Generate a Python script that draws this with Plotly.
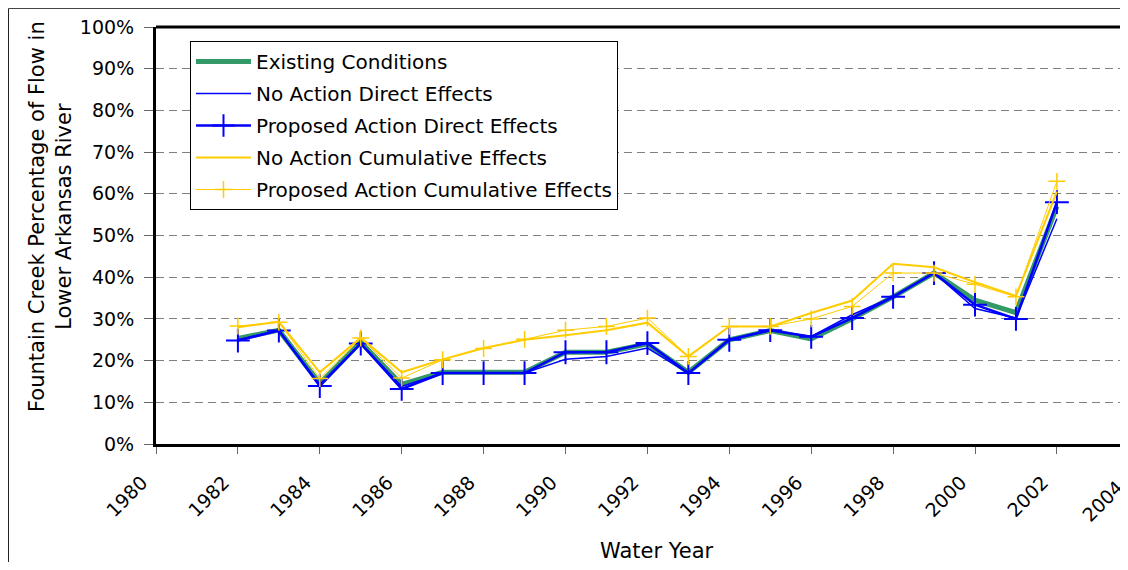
import plotly.graph_objects as go

years = list(range(1982, 2003))

existing = [25.3, 27.3, 14.5, 24.4, 14.3, 17.2, 17.2, 17.2, 22.0, 22.0, 24.0,
            17.2, 25.0, 27.2, 25.2, 30.0, 35.3, 41.0, 34.5, 31.5, 57.0]
no_action_direct = [25.0, 27.3, 14.3, 24.2, 13.8, 17.0, 17.0, 17.0, 20.3, 21.0, 23.0,
                    17.0, 25.0, 27.2, 25.8, 31.0, 35.3, 41.0, 32.5, 30.2, 54.0]
proposed_direct = [24.8, 27.2, 13.9, 24.1, 13.2, 17.0, 17.0, 17.0, 22.0, 22.0, 24.2,
                   17.0, 25.0, 27.3, 25.7, 30.2, 35.3, 41.0, 33.4, 30.0, 58.0]
no_action_cumulative = [28.0, 29.3, 17.2, 25.5, 17.2, 20.3, 23.0, 25.0, 26.1, 27.3, 29.1,
                        21.0, 28.2, 28.2, 31.4, 34.4, 43.2, 42.4, 38.8, 35.5, 60.5]
proposed_cumulative = [28.3, 29.2, 15.7, 25.4, 15.8, 20.2, 22.9, 25.1, 27.3, 28.2, 30.2,
                       21.0, 28.2, 28.2, 30.0, 33.0, 41.0, 41.0, 38.3, 35.3, 63.0]

x_ticks = list(range(1980, 2003, 2))
y_ticks = list(range(0, 101, 10))

GREEN = "#339966"
BLUE = "#0000FF"
YELLOW = "#FFCC00"
FONT = "DejaVu Sans"

# page has an 8px body margin, so the figure is sized to fit inside it
W, H = 1112, 554
L, T, B = 148, 19, 118
PX_PER_YEAR = 40.95

fig = go.Figure()

fig.add_trace(go.Scatter(
    x=years, y=existing, name="Existing Conditions", mode="lines",
    line={"color": GREEN, "width": 5}, legendgroup="a",
))
fig.add_trace(go.Scatter(
    x=years, y=no_action_direct, name="No Action Direct Effects", mode="lines",
    line={"color": BLUE, "width": 1.5}, legendgroup="b",
))
fig.add_trace(go.Scatter(
    x=years, y=proposed_direct, name="Proposed Action Direct Effects",
    mode="lines+markers", line={"color": BLUE, "width": 2.5},
    marker={"symbol": "cross-thin", "size": 17, "line": {"color": BLUE, "width": 2}},
    legendgroup="c",
))
fig.add_trace(go.Scatter(
    x=years, y=no_action_cumulative, name="No Action Cumulative Effects", mode="lines",
    line={"color": YELLOW, "width": 2}, legendgroup="d",
))
fig.add_trace(go.Scatter(
    x=years, y=proposed_cumulative, name="Proposed Action Cumulative Effects",
    mode="lines+markers", line={"color": YELLOW, "width": 1},
    marker={"symbol": "cross-thin", "size": 12, "line": {"color": YELLOW, "width": 1.5}},
    legendgroup="e",
))

plot_w = W - L
plot_h = H - T - B


def px(xp):
    return (xp - L) / plot_w


def py(yp):
    return (T + plot_h - yp) / plot_h


fig.update_layout(
    width=W,
    height=H,
    margin={"l": L, "r": 0, "t": T, "b": B},
    paper_bgcolor="white",
    plot_bgcolor="white",
    font={"family": FONT, "size": 19, "color": "black"},
    showlegend=True,
    legend={
        "x": px(182), "y": py(33), "xanchor": "left", "yanchor": "top",
        "bgcolor": "white", "bordercolor": "black", "borderwidth": 1,
        "font": {"family": FONT, "size": 20, "color": "black"},
        "traceorder": "grouped", "tracegroupgap": 3, "itemwidth": 55,
    },
    xaxis={
        "range": [1980, 1980 + plot_w / PX_PER_YEAR],
        "tickvals": x_ticks,
        "ticktext": [str(v) for v in x_ticks],
        "tickangle": -45,
        "ticks": "outside", "ticklen": 7, "tickcolor": "#666",
        "ticklabelshift": -14, "ticklabelstandoff": 10,
        "showline": True, "linecolor": "black", "linewidth": 3,
        "showgrid": False, "zeroline": False,
    },
    yaxis={
        "range": [0, 100],
        "tickvals": y_ticks,
        "ticktext": [f"{v}%" for v in y_ticks],
        "ticks": "outside", "ticklen": 9, "tickcolor": "#666",
        "ticklabelstandoff": 6,
        "showline": True, "linecolor": "black", "linewidth": 3,
        "showgrid": True, "gridcolor": "#808080", "gridwidth": 1,
        "griddash": "8px,5px", "zeroline": False,
    },
    shapes=[
        # top border of the plot area
        {"type": "line", "xref": "paper", "yref": "paper",
         "x0": 0, "x1": 1.05, "y0": 1, "y1": 1,
         "line": {"color": "black", "width": 3}},
        # chart area border (left and top visible)
        {"type": "line", "xref": "paper", "yref": "paper",
         "x0": px(0.5), "x1": px(0.5), "y0": py(0.5), "y1": py(H + 20),
         "line": {"color": "#222", "width": 1}},
        {"type": "line", "xref": "paper", "yref": "paper",
         "x0": px(0.5), "x1": 1.05, "y0": py(0.5), "y1": py(0.5),
         "line": {"color": "#444", "width": 1}},
    ],
    annotations=[
        {"text": "Fountain Creek Percentage of Flow in<br>Lower Arkansas River",
         "xref": "paper", "yref": "paper", "x": px(42), "y": py(209),
         "xanchor": "center", "yanchor": "middle",
         "textangle": -90, "showarrow": False,
         "font": {"family": FONT, "size": 21, "color": "black"}},
        {"text": "Water Year", "xref": "paper", "yref": "paper",
         "x": px(649), "y": py(543), "xanchor": "center", "yanchor": "middle",
         "showarrow": False,
         "font": {"family": FONT, "size": 21, "color": "black"}},
        {"text": "2004", "xref": "paper", "yref": "paper",
         "x": px(1122), "y": py(465), "xanchor": "right", "yanchor": "top",
         "textangle": -45, "showarrow": False,
         "font": {"family": FONT, "size": 19, "color": "black"}},
    ],
)

fig.write_html("out.html")
